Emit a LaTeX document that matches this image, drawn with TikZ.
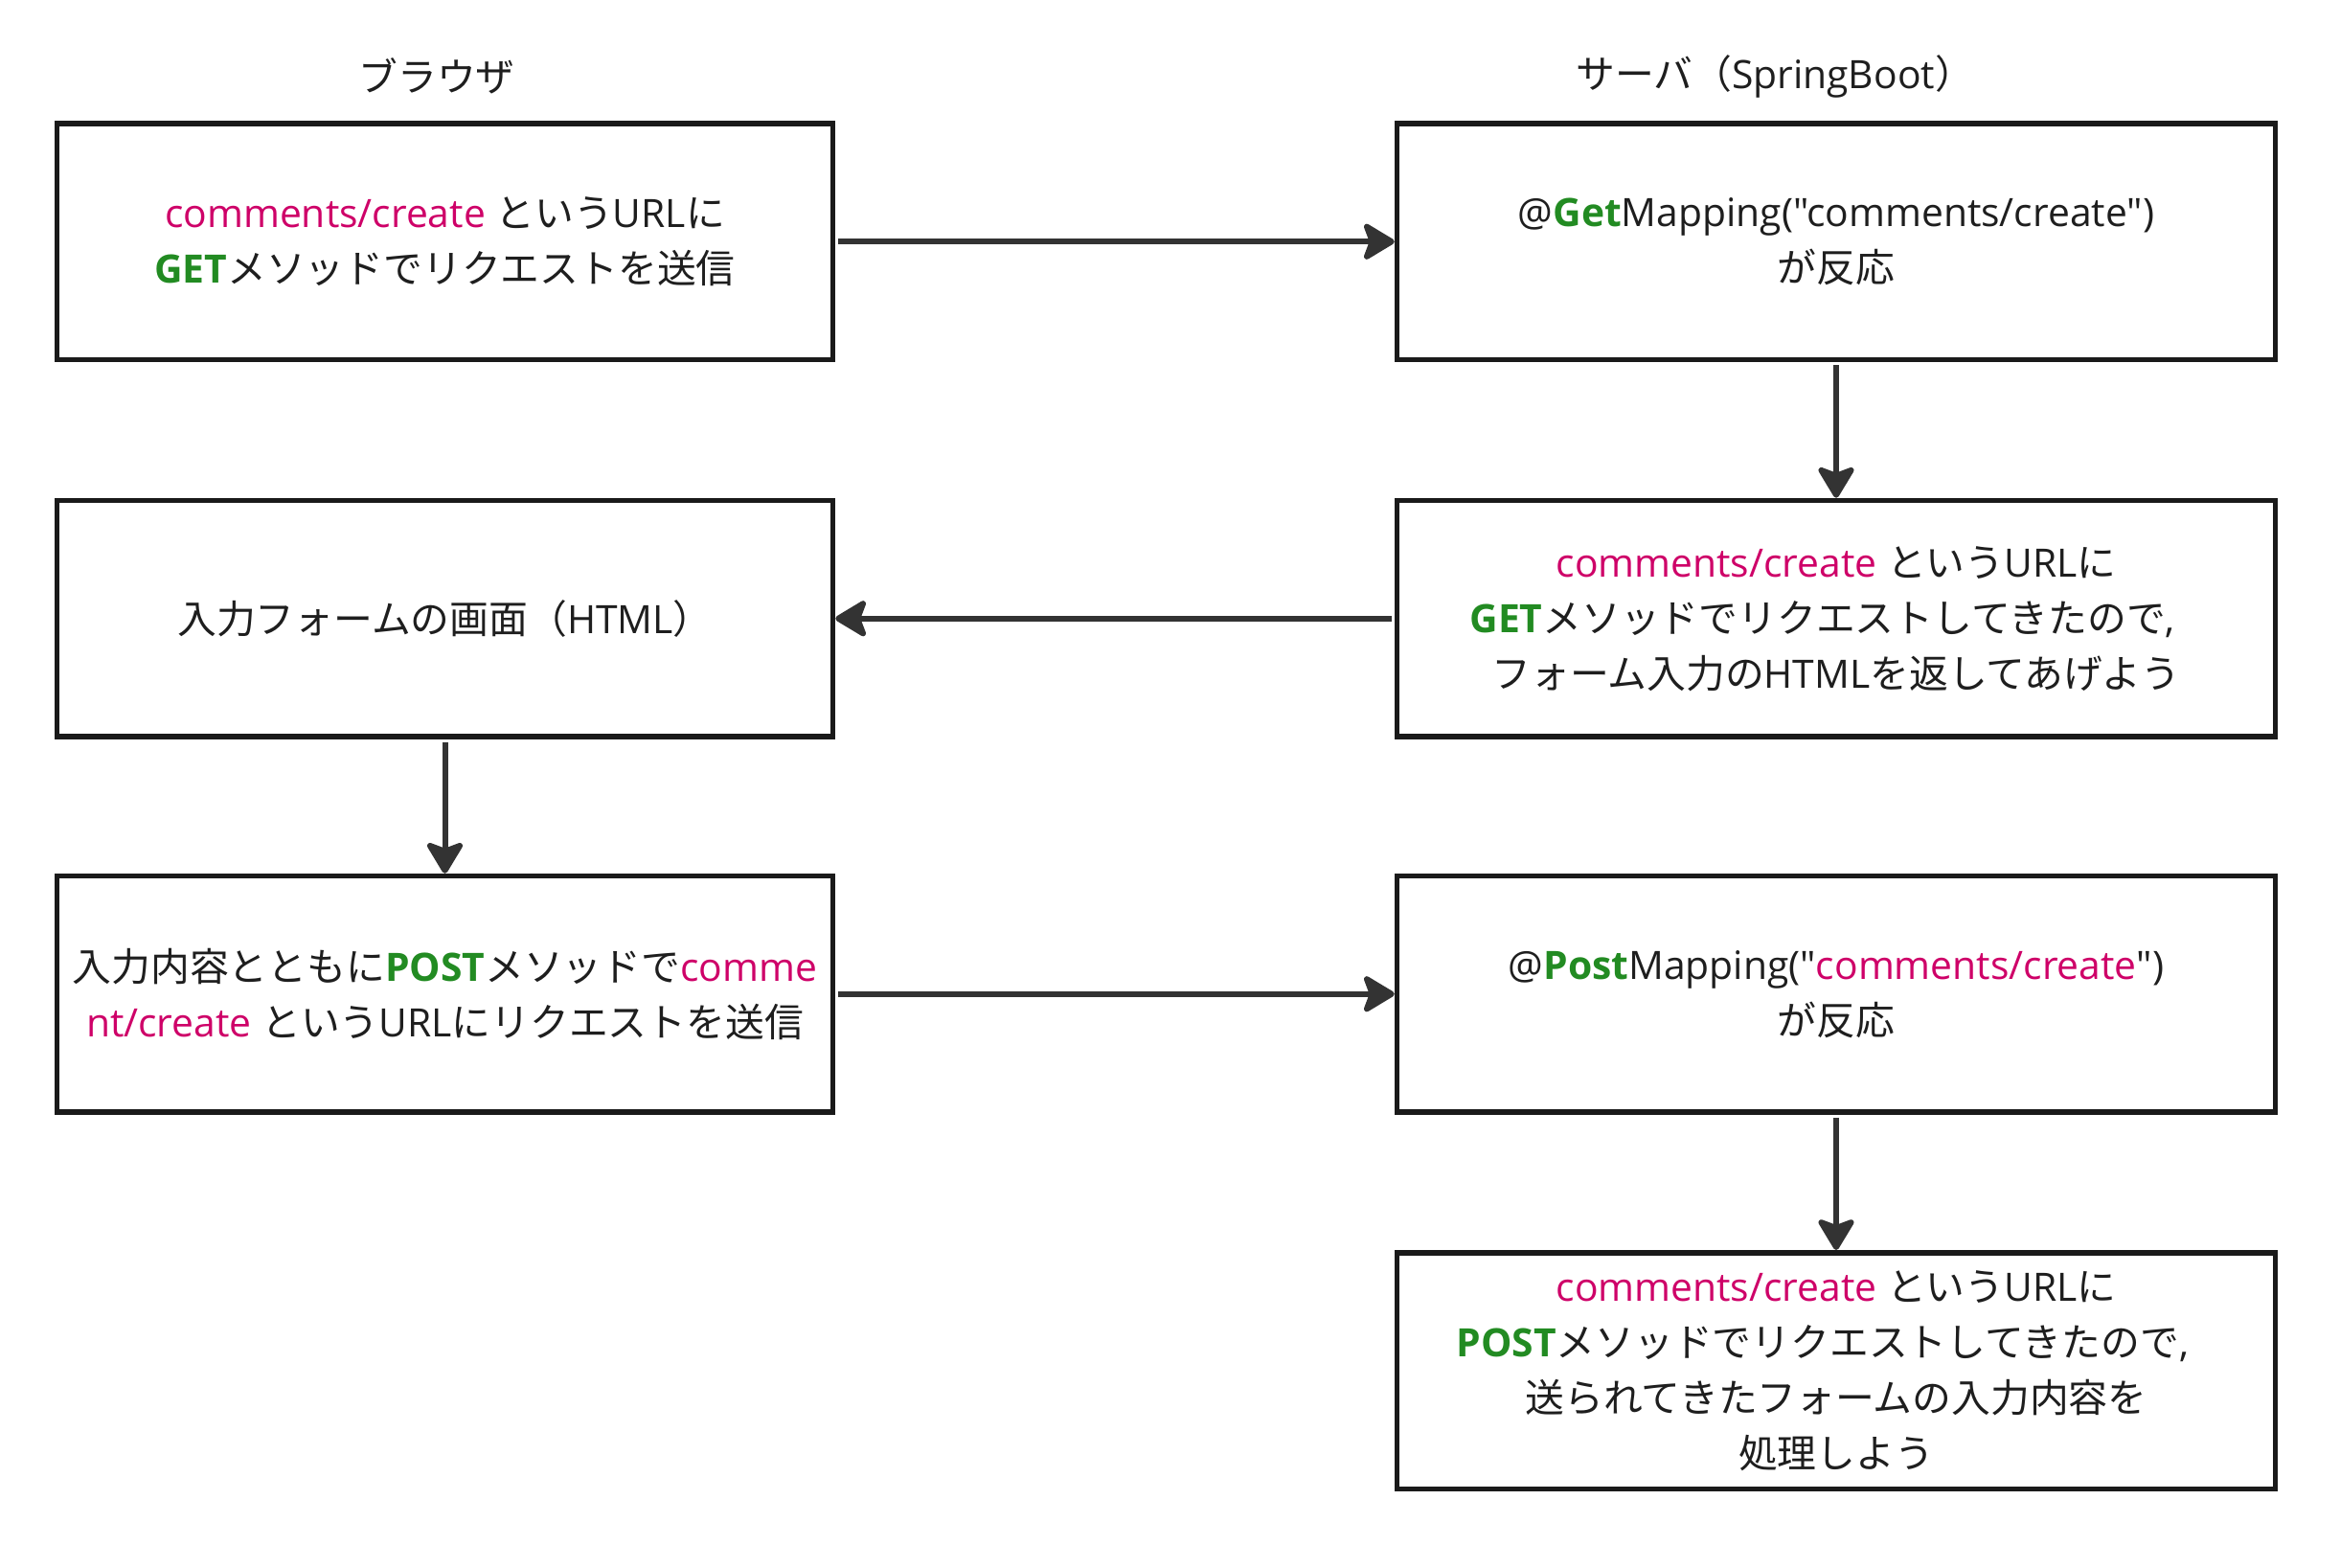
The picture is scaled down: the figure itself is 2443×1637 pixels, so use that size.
\documentclass[tikz,border=0pt]{standalone}
\usepackage{fontspec}
\setmainfont{Open Sans}[Ligatures=TeXOff]
\newfontfamily\jpf{Noto Sans CJK JP}
\usetikzlibrary{arrows.meta}
\definecolor{pinkc}{RGB}{206,0,104}
\definecolor{greenc}{RGB}{34,139,34}
\definecolor{boxc}{HTML}{1A1A1A}
\definecolor{arrc}{HTML}{333333}
\definecolor{txtc}{HTML}{1E1E1E}
\newcommand{\J}[1]{{\jpf #1}}
\newcommand{\Pk}[1]{{\color{pinkc}#1}}
\newcommand{\Gr}[1]{{\color{greenc}\bfseries #1}}
\begin{document}
\begin{tikzpicture}[x=0.5pt,y=-0.5pt,
  every node/.style={text=txtc, font=\fontsize{20.4}{29}\selectfont},
  boxbase/.style={draw=boxc, line width=2.75pt, inner sep=0pt, align=center, minimum height=123.25pt},
  lbox/.style={boxbase, minimum width=405pt},
  rbox/.style={boxbase, minimum width=458.5pt},
  head/.style={inner sep=0pt, anchor=west},
  conn/.style={draw=arrc, line width=3pt, shorten <=1.5pt,
    -{Stealth[length=18.5pt, width=22pt, inset=4pt, round]}}]
\useasboundingbox (0,0) rectangle (2443,1637);

\node[head] (hb) at (374,79) {\J{ブラウザ}};
\node[head] (hs) at (1645,80) {\J{サーバ（}SpringBoot\J{）}};

\node[lbox] (l1) at (464.5,252.25) {\Pk{comments/create} \J{という}URL\J{に}\\ \Gr{GET}\J{メソッドでリクエストを送信}};
\node[rbox] (r1) at (1917,252.25) {@\Gr{Get}Mapping("comments/create")\\ \J{が反応}};

\node[lbox] (l2) at (464.5,645.75) {\J{入力フォームの画面（}HTML\J{）}};
\node[rbox] (r2) at (1917,645.75) {\Pk{comments/create} \J{という}URL\J{に}\\ \Gr{GET}\J{メソッドでリクエストしてきたので},\kern0.7em\\ \J{フォーム入力の}HTML\J{を返してあげよう}};

\node[lbox] (l3) at (464.5,1037.75) {\J{入力内容とともに}\Gr{POST}\J{メソッドで}\Pk{comme}\\ \Pk{nt/create} \J{という}URL\J{にリクエストを送信}};
\node[rbox] (r3) at (1917,1037.75) {@\Gr{Post}Mapping("\Pk{comments/create}")\\ \J{が反応}};

\node[rbox] (r4) at (1917,1431) {\Pk{comments/create} \J{という}URL\J{に}\\ \Gr{POST}\J{メソッドでリクエストしてきたので},\kern0.7em\\ \J{送られてきたフォームの入力内容を}\\ \J{処理しよう}};

\draw[conn] (l1.east) -- (r1.west);
\draw[conn] (r1.south) -- (r2.north);
\draw[conn] (r2.west) -- (l2.east);
\draw[conn] (l2.south) -- (l3.north);
\draw[conn] (l3.east) -- (r3.west);
\draw[conn] (r3.south) -- (r4.north);
\end{tikzpicture}
\end{document}
